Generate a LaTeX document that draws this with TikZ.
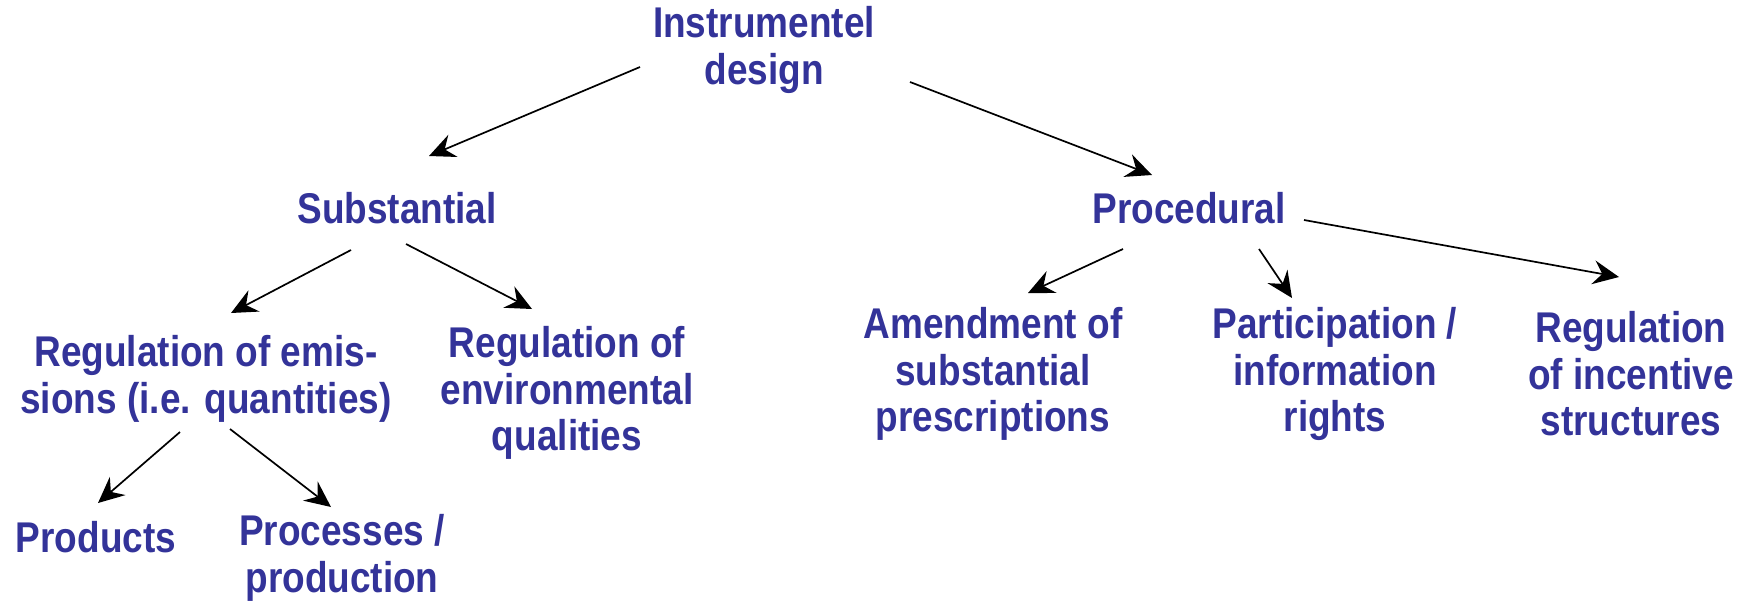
\documentclass[tikz,border=0pt]{standalone}
\usepackage{fontspec}
\setmainfont{Liberation Sans}[FakeStretch=0.86]
\usetikzlibrary{arrows.meta,calc}
\definecolor{txtblue}{HTML}{333399}
\tikzset{
  lbl/.style={inner sep=0pt, align=center, text=txtblue,
    font=\fontsize{43pt}{46.5pt}\selectfont\bfseries},
  arr/.style={-{Stealth[length=26pt,width=24pt,inset=9pt]}, line width=1.7pt, black}
}
\begin{document}
\begin{tikzpicture}[x=1pt,y=-1pt]
\useasboundingbox (0,0) rectangle (1744,600);
\node[lbl] (top) at (764,50) {Instrumentel\\design};
\node[lbl] (sub) at (397,208) {Substantial};
\node[lbl] (proc) at (1189,208) {Procedural};
\node[lbl] (regem) at (206,379) {Regulation of emis-\\sions (i.e. quantities)};
\node[lbl] (regenv) at (567,393) {Regulation of\\environmental\\qualities};
\node[lbl] (prod) at (96,537) {Products};
\node[lbl] (procs) at (342,558) {Processes /\\production};
\node[lbl] (amend) at (993,374) {Amendment of\\substantial\\prescriptions};
\node[lbl] (partic) at (1335,374) {Participation /\\information\\rights};
\node[lbl] (incent) at (1631,374) {Regulation\\of incentive\\structures};
\draw[arr] ($(top)+(-124,17)$) -- ($(sub)+(32,-52)$);
\draw[arr] ($(top)+(146,32)$) -- ($(proc)+(-37,-33)$);
\draw[arr] ($(sub)+(-46,42)$) -- ($(regem)+(25,-66)$);
\draw[arr] ($(sub)+(9,36)$) -- ($(regenv)+(-35,-84)$);
\draw[arr] ($(regem)+(-26,53)$) -- ($(prod)+(2,-34)$);
\draw[arr] ($(regem)+(24,50)$) -- ($(procs)+(-11,-51)$);
\draw[arr] ($(proc)+(-66,41)$) -- ($(amend)+(35,-81)$);
\draw[arr] ($(proc)+(70,41)$) -- ($(partic)+(-43,-76)$);
\draw[arr] ($(proc)+(115,12)$) -- ($(incent)+(-12,-97)$);
\end{tikzpicture}
\end{document}
